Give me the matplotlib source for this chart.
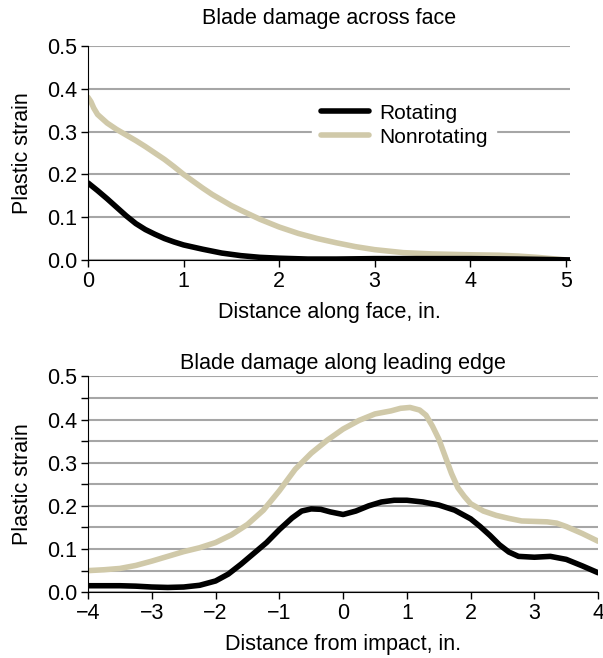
import numpy as np
import matplotlib.pyplot as plt
from matplotlib.ticker import MultipleLocator

plt.rcParams['font.family'] = ['Liberation Sans', 'DejaVu Sans']

# top panel: across face
face_x = [0, 0.03, 0.06, 0.1, 0.15, 0.2, 0.3, 0.4, 0.5, 0.6, 0.7, 0.8, 0.9, 1.0, 1.1, 1.2, 1.3, 1.4, 1.5, 1.6, 1.8, 2.0, 2.2, 2.4, 2.6, 2.8, 3.0, 3.3, 3.6, 4.0, 4.3, 4.5, 4.7, 4.85, 5.0]
face_non = [0.38, 0.37, 0.355, 0.34, 0.33, 0.32, 0.305, 0.292, 0.279, 0.265, 0.25, 0.235, 0.218, 0.2, 0.184, 0.168, 0.153, 0.14, 0.127, 0.116, 0.095, 0.077, 0.062, 0.05, 0.04, 0.031, 0.024, 0.017, 0.014, 0.012, 0.011, 0.009, 0.006, 0.003, 0.0]
face_rot_x = [0, 0.1, 0.2, 0.3, 0.4, 0.5, 0.6, 0.7, 0.8, 0.9, 1.0, 1.2, 1.4, 1.6, 1.8, 2.0, 2.3, 2.6, 3.0, 3.5, 4.0, 4.5, 4.8, 5.05]
face_rot = [0.18, 0.162, 0.143, 0.123, 0.103, 0.085, 0.071, 0.06, 0.05, 0.042, 0.035, 0.025, 0.016, 0.01, 0.006, 0.004, 0.002, 0.002, 0.003, 0.003, 0.003, 0.002, 0.001, 0.0]

# bottom panel: along leading edge
edge_non_x = [-4, -3.75, -3.5, -3.25, -3, -2.75, -2.5, -2.25, -2, -1.75, -1.5, -1.25, -1, -0.75, -0.5, -0.25, 0, 0.25, 0.5, 0.75, 0.9, 1.05, 1.2, 1.3, 1.4, 1.5, 1.6, 1.7, 1.8, 1.9, 2.0, 2.2, 2.4, 2.6, 2.8, 3.0, 3.2, 3.35, 3.5, 3.75, 4]
edge_non = [0.05, 0.052, 0.055, 0.062, 0.072, 0.083, 0.094, 0.103, 0.115, 0.133, 0.157, 0.19, 0.235, 0.285, 0.322, 0.352, 0.378, 0.398, 0.413, 0.42, 0.426, 0.428, 0.422, 0.41, 0.385, 0.355, 0.315, 0.275, 0.242, 0.222, 0.205, 0.188, 0.178, 0.171, 0.165, 0.164, 0.163, 0.16, 0.152, 0.136, 0.118]
edge_rot_x = [-4, -3.5, -3.25, -3, -2.75, -2.5, -2.25, -2, -1.8, -1.6, -1.4, -1.2, -1, -0.8, -0.65, -0.5, -0.35, -0.2, 0, 0.2, 0.4, 0.6, 0.8, 1, 1.25, 1.5, 1.75, 2, 2.15, 2.3, 2.45, 2.6, 2.75, 3, 3.25, 3.5, 3.75, 4]
edge_rot = [0.015, 0.015, 0.014, 0.012, 0.011, 0.012, 0.016, 0.026, 0.042, 0.065, 0.09, 0.115, 0.145, 0.172, 0.188, 0.193, 0.192, 0.186, 0.18, 0.188, 0.2, 0.209, 0.213, 0.213, 0.209, 0.202, 0.19, 0.17, 0.152, 0.132, 0.11, 0.093, 0.083, 0.081, 0.083, 0.076, 0.061, 0.045]

tan = '#d0c9a9'
grid_c = '#a6a6a6'
fs = 15.5

fig = plt.figure(figsize=(6.03, 6.58), dpi=100)
ax1 = fig.add_axes([0.146, 0.605, 0.800, 0.325])
ax2 = fig.add_axes([0.146, 0.100, 0.846, 0.328])

for ax in (ax1, ax2):
    ax.spines['top'].set_visible(False)
    ax.spines['right'].set_visible(False)
    ax.set_ylim(0, 0.5)
    ax.yaxis.set_major_locator(MultipleLocator(0.1))
    ax.yaxis.set_major_formatter(plt.FormatStrFormatter('%.1f'))
    ax.tick_params(labelsize=fs, direction='out', length=5, width=1, pad=3)
    ax.set_ylabel('Plastic strain', fontsize=fs, labelpad=10)
    ax.set_axisbelow(True)

ax1.grid(axis='y', color=grid_c, linewidth=1.5)
ax1.plot(face_x, face_non, color=tan, linewidth=4, label='Nonrotating', solid_capstyle='round')
ax1.plot(face_rot_x, face_rot, color='black', linewidth=4, label='Rotating', solid_capstyle='round')
ax1.set_xlim(0, 5.05)
ax1.set_xticks([0, 1, 2, 3, 4, 5])
ax1.set_title('Blade damage across face', fontsize=fs, pad=16)
ax1.set_xlabel('Distance along face, in.', fontsize=fs, labelpad=7)
h, l = ax1.get_legend_handles_labels()
leg = ax1.legend(h[::-1], l[::-1], loc='center', bbox_to_anchor=(0.655, 0.63), frameon=True,
                 fontsize=15, handlelength=2.3, handletextpad=0.5, labelspacing=0.25,
                 facecolor='white', edgecolor='white', framealpha=1)

ax2.yaxis.set_minor_locator(MultipleLocator(0.05))
ax2.tick_params(which='minor', direction='out', length=5, width=1)
ax2.grid(axis='y', which='both', color=grid_c, linewidth=1.5)
ax2.plot(edge_non_x, edge_non, color=tan, linewidth=4, solid_capstyle='round')
ax2.plot(edge_rot_x, edge_rot, color='black', linewidth=4, solid_capstyle='round')
ax2.set_xlim(-4, 4)
ax2.set_xticks(range(-4, 5))
ax2.set_title('Blade damage along leading edge', fontsize=fs, pad=5)
ax2.set_xlabel('Distance from impact, in.', fontsize=fs, labelpad=7)

fig.savefig('out.png', dpi=100)
